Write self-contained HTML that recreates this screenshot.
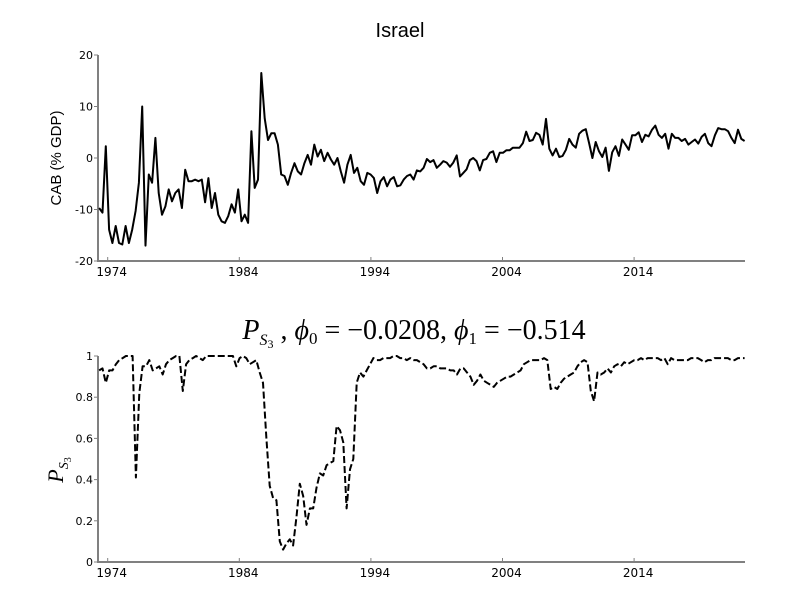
<!DOCTYPE html>
<html><head><meta charset="utf-8"><style>
body{margin:0;background:#fff;}
.t{font-family:"DejaVu Sans","Liberation Sans",sans-serif;}
.ls{font-family:"Liberation Sans",sans-serif;}
.sr{font-family:"Liberation Serif",serif;}
</style></head><body>
<svg id="c" width="800" height="600" xmlns="http://www.w3.org/2000/svg">
<text class="ls" x="400" y="37" text-anchor="middle" font-size="20">Israel</text>
<text class="ls" transform="translate(61,158) rotate(-90)" text-anchor="middle" font-size="15">CAB (% GDP)</text>
<text class="sr" x="414" y="339" text-anchor="middle" font-size="28"><tspan font-style="italic">P</tspan><tspan font-style="italic" font-size="16" dy="6">S</tspan><tspan font-size="12" dy="3">3</tspan><tspan dy="-9"> , </tspan><tspan font-style="italic">ϕ</tspan><tspan font-size="17" dy="5">0</tspan><tspan dy="-5"> = −0.0208, </tspan><tspan font-style="italic">ϕ</tspan><tspan font-size="17" dy="5">1</tspan><tspan dy="-5"> = −0.514</tspan></text>
<text class="sr" transform="translate(63,470) rotate(-90)" text-anchor="middle" font-size="22"><tspan font-style="italic">P</tspan><tspan font-style="italic" font-size="14" dy="5">S</tspan><tspan font-size="10" dy="3">3</tspan></text>
<g id="g"></g>
</svg>
<script>
const cabValues=[-9.7,-10.6,2.3,-13.9,-16.5,-13.2,-16.5,-16.8,-13.2,-16.5,-13.9,-10.3,-4.8,10,-17,-3.2,-4.8,3.9,-6.8,-11,-9.4,-6.1,-8.4,-6.8,-6.1,-9.7,-2.3,-4.5,-4.5,-4.2,-4.5,-4.2,-8.6,-3.9,-9.7,-6.8,-11,-12.3,-12.6,-11.3,-9,-10.6,-6.1,-12.3,-11,-12.6,5.2,-5.8,-4.2,16.5,7.7,3.5,4.8,4.8,2.6,-3.2,-3.5,-5.2,-2.9,-1,-2.6,-3.2,-1,0.6,-1.3,2.6,0.3,1.6,-0.6,1,-0.3,-1.3,0,-2.6,-4.8,-1.3,0.6,-2.9,-1.9,-4.5,-5.2,-2.9,-3.2,-3.9,-6.8,-4.5,-3.7,-5.5,-4.2,-3.7,-5.5,-5.3,-4.2,-3.5,-3.2,-4.2,-2.4,-2.6,-1.9,-0.2,-0.8,-0.4,-1.9,-1.3,-0.6,-0.9,-1.7,-0.9,0.5,-3.6,-2.9,-2.2,-0.4,0,-0.6,-2.4,-0.4,-0.2,1,1.3,-0.8,1,1,1.5,1.5,2,2,2,2.9,5.1,3.3,3.5,4.9,4.5,2.6,7.6,1.8,0.5,1.8,0.2,0.4,1.6,3.7,2.6,2,4.7,5.3,5.6,2.9,0,3.1,1.3,0.2,2,-2.5,1.1,2.3,0.4,3.6,2.6,1.6,4.4,4.4,5,3.1,4.5,4.2,5.5,6.3,4.5,3.9,4.7,1.8,4.7,3.9,3.9,3.3,3.7,2.6,3.1,3.6,2.8,4.1,4.7,2.9,2.3,4.4,5.8,5.6,5.6,5.2,3.9,2.9,5.5,3.7,3.3];
const probValues=[0.93,0.94,0.87,0.93,0.93,0.96,0.98,0.99,1,1,1,0.41,0.82,0.95,0.95,0.98,0.93,0.94,0.95,0.91,0.96,0.98,0.99,1,1,0.83,0.96,0.98,0.99,1,0.99,0.98,1,1,1,1,1,1,1,1,1,0.95,0.99,1,0.99,0.96,0.97,0.98,0.92,0.87,0.6,0.37,0.31,0.3,0.1,0.06,0.09,0.11,0.08,0.22,0.38,0.32,0.18,0.26,0.26,0.36,0.43,0.42,0.47,0.48,0.49,0.66,0.64,0.58,0.26,0.45,0.5,0.87,0.92,0.9,0.93,0.96,0.99,0.98,0.98,0.99,0.99,0.99,1,1,0.99,0.99,0.98,0.99,0.98,0.98,0.97,0.96,0.94,0.94,0.95,0.95,0.94,0.94,0.94,0.93,0.93,0.91,0.94,0.94,0.92,0.9,0.86,0.88,0.91,0.88,0.87,0.86,0.85,0.87,0.88,0.89,0.9,0.9,0.91,0.92,0.93,0.96,0.97,0.98,0.98,0.98,0.98,0.99,0.98,0.84,0.85,0.84,0.87,0.89,0.9,0.91,0.92,0.95,0.97,0.98,0.97,0.83,0.78,0.92,0.91,0.92,0.94,0.92,0.95,0.96,0.95,0.97,0.96,0.97,0.98,0.98,0.99,0.98,0.99,0.99,0.99,0.99,0.98,0.99,0.96,0.99,0.98,0.98,0.98,0.98,0.98,0.99,0.99,0.99,0.98,0.97,0.98,0.98,0.99,0.99,0.99,0.99,0.99,0.98,0.98,0.99,0.99,0.99];
const startYear=1973.35, endYear=2022.4;
const xTickLabels=[1974,1984,1994,2004,2014];
const cabTicks=[20,10,0,-10,-20];
const probTicks=[1,0.8,0.6,0.4,0.2,0];
const probTickLabels=["1","0.8","0.6","0.4","0.2","0"];

const NS="http://www.w3.org/2000/svg";
const g=document.getElementById('g');
const X0=98,X1=745;
function xYear(y){return 107.7+(y-1974)*13.16;}
function mk(t,a){const e=document.createElementNS(NS,t);for(const k in a)e.setAttribute(k,a[k]);g.appendChild(e);return e;}
function panel(top,bot,vmin,vmax,ticks,labels,vals,dash,pfx){
  const yS=v=>bot-(v-vmin)/(vmax-vmin)*(bot-top);
  let a=mk('line',{x1:X0,y1:top,x2:X0,y2:bot+1,stroke:'#808080','stroke-width':2});
  
  
  a=mk('line',{x1:X0-1,y1:bot,x2:X1,y2:bot,stroke:'#808080','stroke-width':2});
  
  
  ticks.forEach((t,i)=>{
    const y=yS(t);
    let l=mk('line',{x1:X0-4,y1:y,x2:X0,y2:y,stroke:'#808080','stroke-width':1});
    
    
    let tx=mk('text',{x:X0-5,y:y+4,'text-anchor':'end','font-size':11,'class':'t'});
    tx.textContent=labels[i];
    
    
  });
  xTickLabels.forEach(yr=>{
    const x=xYear(yr);
    let l=mk('line',{x1:x,y1:bot-4,x2:x,y2:bot,stroke:'#808080','stroke-width':1});
    
    
    let tx=mk('text',{x:x+4,y:bot+15,'text-anchor':'middle','font-size':12,'class':'t'});
    tx.textContent=yr;
    
    
  });
  const n=vals.length;
  const pts=vals.map((v,i)=>{const yr=startYear+(endYear-startYear)*i/(n-1);return xYear(yr).toFixed(1)+','+yS(v).toFixed(1);}).join(' ');
  const p=mk('polyline',{points:pts,fill:'none',stroke:'#000','stroke-width':2,'stroke-linejoin':'round'});
  if(dash)p.setAttribute('stroke-dasharray','7,3');
  
  
}
panel(55,261,-20,20,cabTicks,cabTicks.map(String),cabValues,false,'cab');
panel(356,562,0,1,probTicks,probTickLabels,probValues,true,'prob');
</script>
</body></html>
